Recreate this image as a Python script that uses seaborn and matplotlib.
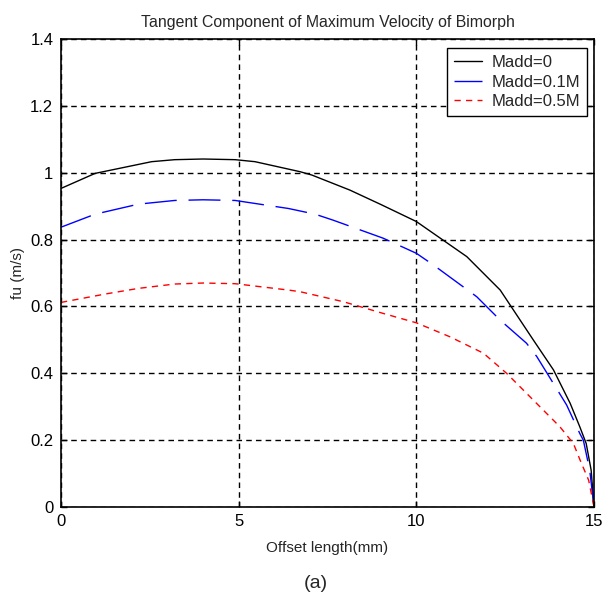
import numpy as np
import pandas as pd
import matplotlib
matplotlib.use("Agg")
import matplotlib.pyplot as plt
import seaborn as sns

# ---- data ----
x_madd_0 = [0, 0.96, 2.55, 3.2, 4.0, 4.9, 5.46, 6.73, 7.06, 8.13, 9.0, 10.0, 11.42,
            12.36, 13.29, 13.86, 14.33, 14.6, 14.78, 14.92, 15.0]
fu_madd_0 = [0.953, 0.998, 1.033, 1.039, 1.041, 1.039, 1.033, 1.003, 0.993, 0.948, 0.905,
             0.854, 0.749, 0.649, 0.50, 0.41, 0.31, 0.24, 0.19, 0.11, 0.0]

x_madd_01 = [0, 0.96, 2.18, 3.2, 4.0, 4.9, 6.4, 7.15, 7.66, 9.07, 10.0, 10.48, 11.7,
             12.36, 13.1, 13.39, 14.0, 14.23, 14.6, 14.7, 14.88, 15.0]
fu_madd_01 = [0.837, 0.876, 0.906, 0.917, 0.919, 0.917, 0.893, 0.876, 0.858, 0.804, 0.759,
              0.724, 0.629, 0.559, 0.49, 0.45, 0.345, 0.305, 0.22, 0.20, 0.11, 0.0]

x_madd_05 = [0, 1.24, 2.18, 3.2, 4.0, 4.9, 6.4, 6.73, 7.95, 9.07, 10.0, 10.95, 11.89,
             12.54, 13.29, 14.04, 14.42, 14.61, 14.85, 15.0]
fu_madd_05 = [0.612, 0.637, 0.654, 0.667, 0.670, 0.668, 0.649, 0.644, 0.614, 0.579, 0.551,
              0.509, 0.46, 0.40, 0.32, 0.24, 0.19, 0.14, 0.08, 0.0]

series_labels = ["Madd=0", "Madd=0.1M", "Madd=0.5M"]
x_ticks = [0, 5, 10, 15]
y_ticks = [0, 0.2, 0.4, 0.6, 0.8, 1.0, 1.2, 1.4]
y_tick_labels = ["0", "0.2", "0.4", "0.6", "0.8", "1", "1.2", "1.4"]

sns.set_style("white")
plt.rcParams['font.family'] = ['Liberation Sans', 'DejaVu Sans']

fig = plt.figure(figsize=(6.02, 5.95), dpi=100)
ax = fig.add_axes([61/602, 1 - 507/595, (594 - 61)/602, (507 - 39)/595])

styles = [
    dict(color="black", linestyle="-"),
    dict(color="blue", linestyle=(0, (23, 8.5))),
    dict(color="red", linestyle=(0, (4.5, 3.8))),
]
series = [(x_madd_0, fu_madd_0), (x_madd_01, fu_madd_01), (x_madd_05, fu_madd_05)]
for (xs, ys), lab, st in zip(series, series_labels, styles):
    sns.lineplot(x=xs, y=ys, ax=ax, label=lab, linewidth=1.0,
                 sort=False, estimator=None, **st)

ax.set_xlim(0, 15)
ax.set_ylim(0, 1.4)
ax.set_xticks(x_ticks)
ax.set_xticklabels([str(t) for t in x_ticks])
ax.set_yticks(y_ticks)
ax.set_yticklabels(y_tick_labels)
ax.grid(True, color="black", linestyle=(0, (4, 3)), linewidth=1.0)
for s in ax.spines.values():
    s.set_color("black")
    s.set_linewidth(1.2)
ax.tick_params(direction="in", length=4, width=1, colors="black", labelsize=12,
               top=True, right=True, bottom=True, left=True)
ax.tick_params(axis="x", pad=5)
ax.tick_params(axis="y", pad=5.5)

ax.set_title("Tangent Component of Maximum Velocity of Bimorph", fontsize=11.4, pad=9)
ax.set_xlabel("Offset length(mm)", fontsize=11, labelpad=9)
ax.set_ylabel("fu (m/s)", fontsize=11, labelpad=4)

leg = ax.legend(loc="upper right", frameon=True, fancybox=False, fontsize=12,
                handlelength=1.7, handletextpad=0.55, borderpad=0.42,
                labelspacing=0.28, bbox_to_anchor=(0.987, 0.981), borderaxespad=0)
leg.get_frame().set_edgecolor("black")
leg.get_frame().set_linewidth(1.0)
leg.get_frame().set_alpha(1.0)

fig.text(316/602, 1 - 583/595, "(a)", ha="center", va="center", fontsize=14)

fig.savefig("out.png", dpi=100)
